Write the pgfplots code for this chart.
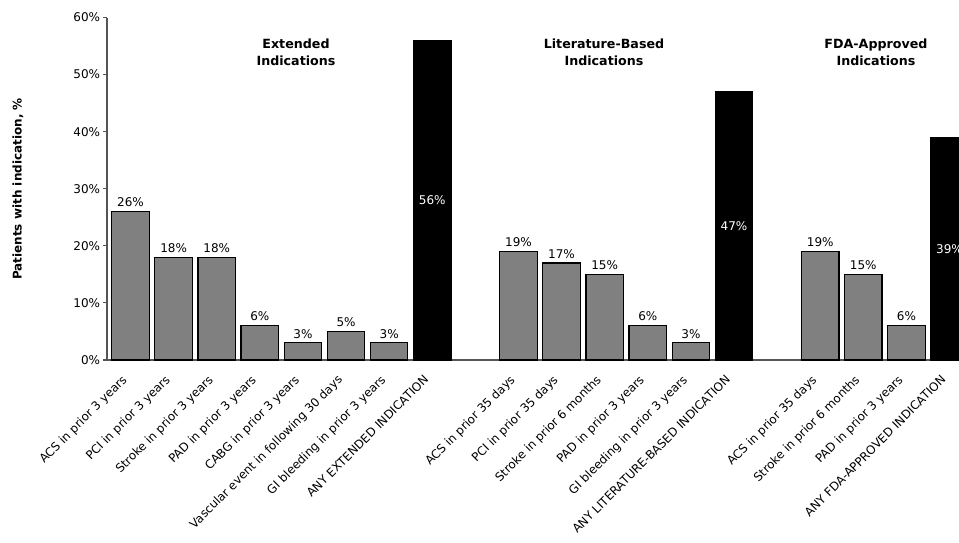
\documentclass[border=0pt]{standalone}
\usepackage{pgfplots}
\pgfplotsset{compat=1.18}
\usepackage{fontspec}
\setmainfont{DejaVu Sans}
\definecolor{barg}{HTML}{808080}
\definecolor{axg}{HTML}{555555}
\begin{document}
\begin{tikzpicture}
\path[use as bounding box, clip] (0,0) rectangle (719.25pt,406.5pt);
\begin{axis}[
  at={(80.25pt,136.5pt)}, anchor=south west,
  scale only axis, width=639pt, height=256.875pt,
  xmin=-0.545, xmax=19.22, ymin=0, ymax=60,
  axis x line*=bottom, axis y line*=left,
  axis line style={draw=axg, line width=0.8pt, -},
  ytick={0,10,...,60},
  yticklabel={\pgfmathprintnumber{\tick}\%},
  /pgf/number format/assume math mode=true,
  yticklabel style={font=\fontsize{9}{10}\selectfont, inner sep=2pt},
  tick align=outside, major tick length=3pt,
  ytick style={draw=axg, line width=0.8pt},
  xtick style={draw=none},
  xtick={0,1,2,3,4,5,6,7,9,10,11,12,13,14,16,17,18,19},
  xticklabels={{ACS in prior 3 years},{PCI in prior 3 years},{Stroke in prior 3 years},{PAD in prior 3 years},{CABG in prior 3 years},{Vascular event in following 30 days},{GI bleeding in prior 3 years},{ANY EXTENDED INDICATION},
  {ACS in prior 35 days},{PCI in prior 35 days},{Stroke in prior 6 months},{PAD in prior 3 years},{GI bleeding in prior 3 years},{ANY LITERATURE-BASED INDICATION},
  {ACS in prior 35 days},{Stroke in prior 6 months},{PAD in prior 3 years},{ANY FDA-APPROVED INDICATION}},
  xticklabel style={font=\fontsize{8.9}{10}\selectfont, anchor=north east, inner sep=1pt, xshift=-7pt, yshift=-6pt, rotate=45},
]
\addplot[ybar, bar width=0.87, bar shift=0pt, fill=barg, draw=black, line width=0.9pt,
  nodes near coords={\pgfmathprintnumber{\pgfplotspointmeta}\%},
  every node near coord/.append style={font=\fontsize{9}{10}\selectfont, black, inner sep=2pt, yshift=1pt}]
  coordinates {(0,26)(1,18)(2,18)(3,6)(4,3)(5,5)(6,3)(9,19)(10,17)(11,15)(12,6)(13,3)(16,19)(17,15)(18,6)};
\addplot[ybar, bar width=0.87, bar shift=0pt, fill=black, draw=black, line width=0.9pt]
  coordinates {(7,56)(14,47)(19,39)};
\addplot[only marks, mark=*, mark options={draw=none, fill=none},
  nodes near coords, point meta=explicit symbolic,
  every node near coord/.append style={font=\fontsize{9}{10}\selectfont, white, anchor=center}]
  coordinates {(7,28)[56\%] (14,23.5)[47\%] (19,19.5)[39\%]};
\end{axis}
\node[rotate=90, font=\bfseries\fontsize{9}{11}\selectfont] at (13.5pt,264.75pt) {Patients with indication, \%};
\node[align=center, font=\bfseries\fontsize{9.5}{13}\selectfont] at (222pt,367.5pt) {Extended\\Indications};
\node[align=center, font=\bfseries\fontsize{9.5}{13}\selectfont] at (453pt,367.5pt) {Literature-Based\\Indications};
\node[align=center, font=\bfseries\fontsize{9.5}{13}\selectfont] at (657pt,367.5pt) {FDA-Approved\\Indications};
\end{tikzpicture}
\end{document}
